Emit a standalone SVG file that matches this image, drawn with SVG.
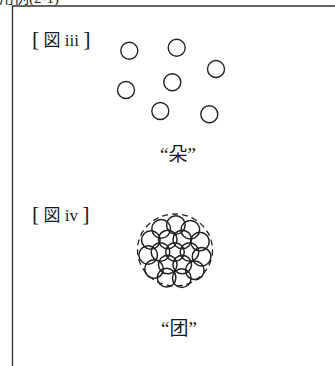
<svg xmlns="http://www.w3.org/2000/svg" width="335" height="366" viewBox="0 0 335 366">
<style>
.t{font-family:"Liberation Serif","Noto Sans CJK JP",serif;fill:#1a1a1a}
.b{font-size:22px;font-family:"Liberation Serif",serif}
.c{fill:none;stroke:#222;stroke-width:1.4}
.k{fill:none;stroke:#222;stroke-width:1.5}
.d{fill:none;stroke:#222;stroke-width:1.3;stroke-dasharray:6 4}
.f{fill:none;stroke:#333;stroke-width:1.4}
</style>
<rect width="335" height="366" fill="#fff"/>
<text class="t" x="-1" y="3" font-size="15">用例(2-1)</text>
<path class="f" d="M12.5 366V6H335"/>
<g id="fig3">
<text class="t" x="32" y="46" font-size="17"><tspan class="b">[</tspan> 図 iii <tspan class="b">]</tspan></text>
<circle class="c" cx="129.3" cy="50.7" r="8.5"/>
<circle class="c" cx="176.7" cy="47.7" r="8.5"/>
<circle class="c" cx="216" cy="69" r="8.5"/>
<circle class="c" cx="126" cy="90" r="8.5"/>
<circle class="c" cx="172.3" cy="82.3" r="8.5"/>
<circle class="c" cx="160.3" cy="111" r="8.5"/>
<circle class="c" cx="209.3" cy="114.3" r="8.5"/>
<text class="t" x="178" y="161" font-size="19" text-anchor="middle">“朵”</text>
</g>
<g id="fig4">
<text class="t" x="32" y="221" font-size="17"><tspan class="b">[</tspan> 図 iv <tspan class="b">]</tspan></text>
<ellipse class="d" cx="175" cy="250" rx="37.5" ry="36"/>
<g transform="translate(175 252)">
<circle class="k" cx="0" cy="0" r="9.3"/>
<circle class="k" cx="14.5" cy="0" r="9.3"/>
<circle class="k" cx="7.25" cy="12.56" r="9.3"/>
<circle class="k" cx="-7.25" cy="12.56" r="9.3"/>
<circle class="k" cx="-14.5" cy="0" r="9.3"/>
<circle class="k" cx="-7.25" cy="-12.56" r="9.3"/>
<circle class="k" cx="7.25" cy="-12.56" r="9.3"/>
<circle class="k" cx="26.59" cy="4.69" r="9.3"/>
<circle class="k" cx="19.83" cy="18.32" r="9.3"/>
<circle class="k" cx="6.78" cy="26.13" r="9.3"/>
<circle class="k" cx="-8.42" cy="25.65" r="9.3"/>
<circle class="k" cx="-20.95" cy="17.03" r="9.3"/>
<circle class="k" cx="-26.83" cy="2.99" r="9.3"/>
<circle class="k" cx="-24.19" cy="-11.99" r="9.3"/>
<circle class="k" cx="-13.87" cy="-23.17" r="9.3"/>
<circle class="k" cx="0.86" cy="-26.99" r="9.3"/>
<circle class="k" cx="15.31" cy="-22.24" r="9.3"/>
<circle class="k" cx="24.9" cy="-10.43" r="9.3"/>
</g>
<text class="t" x="179" y="335" font-size="19" text-anchor="middle">“团”</text>
</g>
</svg>
